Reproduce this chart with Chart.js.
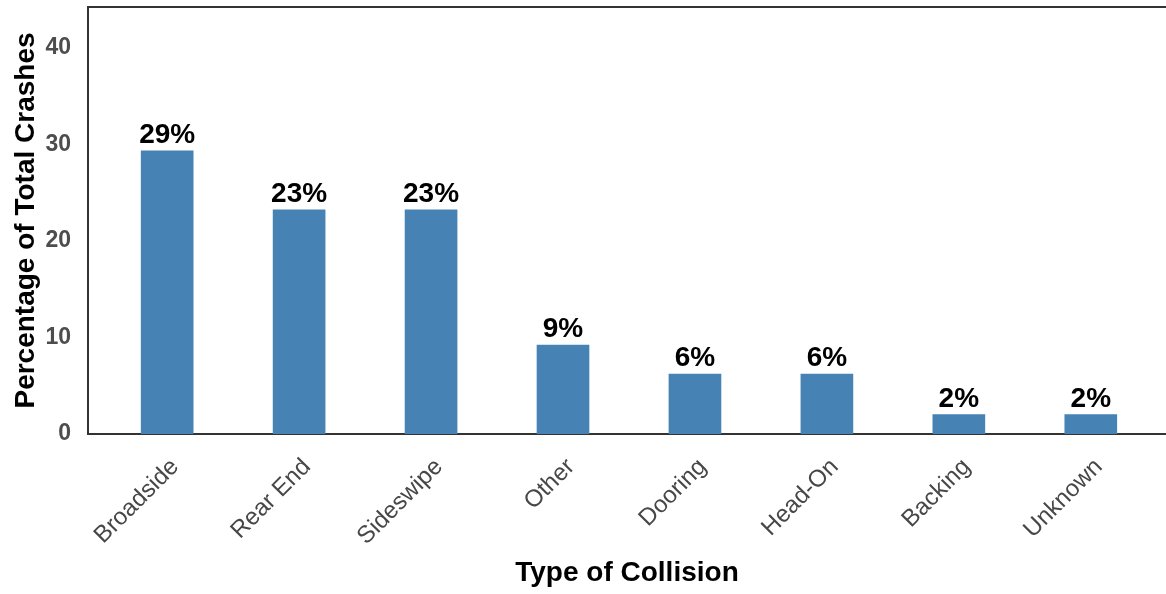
<!DOCTYPE html>
<html>
<head>
<meta charset="utf-8">
<script src="https://cdn.jsdelivr.net/npm/chart.js@4/dist/chart.umd.min.js"></script>
<style>
  html, body { margin: 0; padding: 0; background: #fff; overflow: hidden; }
  canvas { display: block; }
</style>
</head>
<body>
<canvas id="chart" width="1166" height="594"></canvas>
<script>
// collision types and share of total crashes (%)
const categories = ['Broadside', 'Rear End', 'Sideswipe', 'Other', 'Dooring', 'Head-On', 'Backing', 'Unknown'];
const shares = [29.3, 23.2, 23.2, 9.2, 6.2, 6.2, 2.0, 2.0];
const yTicks = [0, 10, 20, 30, 40];

const FONT = "'Liberation Sans', Arial, sans-serif";
const LABEL_SHIFT = 0.06; // ggplot hjust pushes rotated labels a bit right of the bar

// top frame line (left and bottom come from the axis borders)
const frameTop = {
  id: 'frameTop',
  afterDraw(chart) {
    const { ctx, chartArea } = chart;
    ctx.save();
    ctx.strokeStyle = '#333';
    ctx.lineWidth = 2;
    ctx.beginPath();
    ctx.moveTo(chartArea.left - 1, chartArea.top);
    ctx.lineTo(chartArea.right, chartArea.top);
    ctx.stroke();
    ctx.restore();
  }
};

// percentage labels above the bars
const barLabels = {
  id: 'barLabels',
  afterDatasetsDraw(chart) {
    const { ctx } = chart;
    const meta = chart.getDatasetMeta(0);
    ctx.save();
    ctx.font = 'bold 28px ' + FONT;
    ctx.fillStyle = '#000';
    ctx.textAlign = 'center';
    ctx.textBaseline = 'alphabetic';
    meta.data.forEach(function(bar, i) {
      ctx.fillText(Math.round(shares[i]) + '%', bar.x, bar.y - 8);
    });
    ctx.restore();
  }
};

function noPad(s) {
  s.paddingTop = 0;
  s.paddingBottom = 0;
  s.paddingLeft = 0;
  s.paddingRight = 0;
}

new Chart(document.getElementById('chart'), {
  type: 'bar',
  data: {
    datasets: [{
      data: shares.map((v, i) => ({ x: i, y: v })),
      backgroundColor: '#4682B4',
      borderWidth: 0,
      barThickness: 52
    }]
  },
  options: {
    responsive: false,
    animation: false,
    devicePixelRatio: 1,
    layout: { padding: { top: 7, left: 0, right: 0, bottom: 0 } },
    plugins: {
      legend: { display: false },
      tooltip: { enabled: false }
    },
    scales: {
      x: {
        type: 'linear',
        offset: false,
        min: -0.6,
        max: 7.57,
        grid: { display: false, drawTicks: false },
        border: { display: true, color: '#333', width: 2 },
        afterBuildTicks: s => { s.ticks = categories.map((c, i) => ({ value: i + LABEL_SHIFT })); },
        afterFit: s => { s.height = 160; noPad(s); },
        ticks: {
          autoSkip: false,
          minRotation: 45,
          maxRotation: 45,
          padding: 19,
          color: '#474747',
          font: { family: FONT, size: 24 },
          callback: v => categories[Math.round(v - LABEL_SHIFT)]
        },
        title: {
          display: true,
          text: 'Type of Collision',
          color: '#000',
          font: { family: FONT, size: 28, weight: 'bold' },
          padding: { top: 0, bottom: 4 }
        }
      },
      y: {
        min: 0,
        max: 44.2,
        grid: { display: false, drawTicks: false },
        border: { display: true, color: '#333', width: 2 },
        afterBuildTicks: s => { s.ticks = yTicks.map(v => ({ value: v })); },
        afterFit: s => { s.width = 88; noPad(s); },
        ticks: {
          padding: 17,
          color: '#4d4d4d',
          font: { family: FONT, size: 23, weight: 'bold' }
        },
        title: {
          display: true,
          text: 'Percentage of Total Crashes',
          color: '#000',
          font: { family: FONT, size: 28, weight: 'bold' },
          padding: { top: 9, bottom: 0 }
        }
      }
    }
  },
  plugins: [frameTop, barLabels]
});
</script>
</body>
</html>
